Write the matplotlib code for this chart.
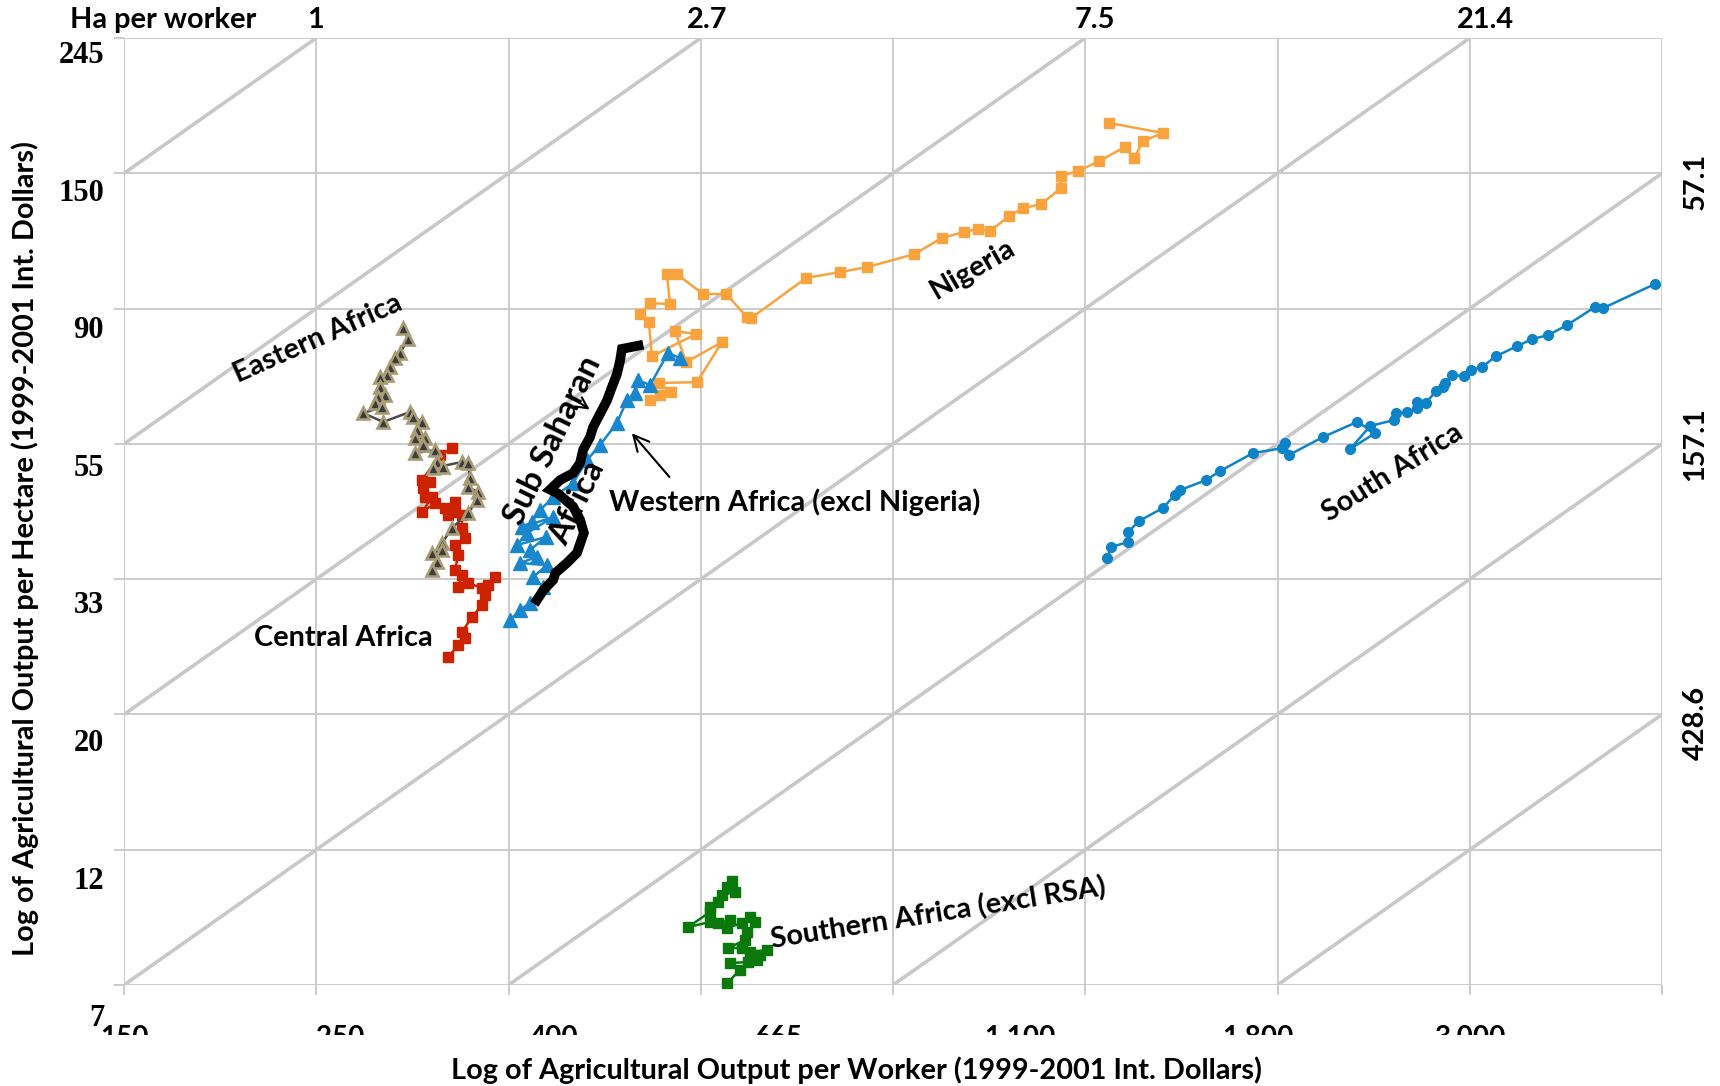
import matplotlib.pyplot as plt
from matplotlib.transforms import Bbox, blended_transform_factory

plt.rcParams['font.family'] = ['Lato', 'DejaVu Sans']
plt.rcParams['font.weight'] = 'bold'

# natural logs: x = output per worker, y = output per hectare
nigeria_x = [6.368, 6.394, 6.423, 6.391, 6.490, 6.555, 6.462, 6.433, 6.488, 6.373,
             6.365, 6.342, 6.368, 6.420, 6.412, 6.438, 6.506, 6.566, 6.620, 6.631,
             6.774, 6.862, 6.932, 7.055, 7.127, 7.185, 7.221, 7.252, 7.302, 7.338,
             7.385, 7.437, 7.437, 7.481, 7.536, 7.603, 7.627, 7.650, 7.702, 7.562]
nigeria_y = [4.162, 4.180, 4.191, 4.225, 4.228, 4.376, 4.302, 4.417, 4.406, 4.324,
             4.450, 4.480, 4.520, 4.517, 4.627, 4.627, 4.554, 4.554, 4.469, 4.465,
             4.613, 4.635, 4.653, 4.701, 4.761, 4.783, 4.794, 4.786, 4.842, 4.871,
             4.886, 4.945, 4.990, 5.008, 5.045, 5.097, 5.056, 5.119, 5.149, 5.186]

western_x = [6.004, 6.030, 6.056, 6.090, 6.064, 6.100, 6.030, 6.074, 6.056, 6.098,
             6.022, 6.048, 6.116, 6.035, 6.061, 6.082, 6.116, 6.168, 6.204, 6.238,
             6.282, 6.308, 6.329, 6.337, 6.368, 6.415, 6.446]
western_y = [3.349, 3.386, 3.412, 3.471, 3.508, 3.552, 3.560, 3.582, 3.608, 3.656,
             3.626, 3.670, 3.729, 3.693, 3.711, 3.755, 3.803, 3.855, 3.940, 3.996,
             4.077, 4.162, 4.188, 4.236, 4.217, 4.336, 4.317]

ssa_x = [6.074, 6.091, 6.116, 6.122, 6.152, 6.178, 6.196, 6.186, 6.168, 6.129,
         6.108, 6.134, 6.168, 6.186, 6.194, 6.212, 6.220, 6.238, 6.256, 6.269,
         6.282, 6.290, 6.295, 6.338]
ssa_y = [3.423, 3.460, 3.497, 3.523, 3.560, 3.597, 3.671, 3.720, 3.768, 3.816,
         3.831, 3.866, 3.892, 3.929, 3.978, 4.025, 4.062, 4.111, 4.160, 4.210,
         4.258, 4.307, 4.351, 4.363]

eastern_x = [5.726, 5.739, 5.718, 5.705, 5.692, 5.684, 5.666, 5.666, 5.679, 5.661,
             5.653, 5.671, 5.622, 5.674, 5.744, 5.752, 5.775, 5.762, 5.783, 5.757,
             5.778, 5.757, 5.809, 5.814, 5.830, 5.804, 5.879, 5.895, 5.900, 5.895,
             5.921, 5.918, 5.895, 5.853, 5.827, 5.827, 5.801, 5.814, 5.801]
eastern_y = [4.428, 4.387, 4.336, 4.317, 4.284, 4.254, 4.247, 4.210, 4.180, 4.173,
             4.151, 4.136, 4.114, 4.081, 4.118, 4.099, 4.081, 4.051, 4.021, 4.021,
             3.996, 3.966, 3.977, 3.933, 3.914, 3.911, 3.933, 3.929, 3.874, 3.840,
             3.822, 3.792, 3.744, 3.689, 3.633, 3.608, 3.596, 3.563, 3.534]

central_x = [5.843, 5.869, 5.887, 5.879, 5.905, 5.931, 5.939, 5.947, 5.965, 5.931,
             5.895, 5.869, 5.879, 5.861, 5.869, 5.861, 5.887, 5.879, 5.879, 5.843,
             5.861, 5.861, 5.835, 5.809, 5.775, 5.801, 5.783, 5.778, 5.796, 5.775,
             5.822, 5.853]
central_y = [3.212, 3.256, 3.282, 3.305, 3.360, 3.404, 3.441, 3.478, 3.508, 3.467,
             3.486, 3.471, 3.515, 3.534, 3.589, 3.626, 3.652, 3.689, 3.737, 3.737,
             3.748, 3.785, 3.763, 3.781, 3.748, 3.803, 3.803, 3.837, 3.859, 3.866,
             3.959, 3.984]

southern_x = [6.568, 6.602, 6.576, 6.623, 6.646, 6.654, 6.672, 6.628, 6.607, 6.571,
              6.615, 6.620, 6.641, 6.628, 6.607, 6.568, 6.576, 6.545, 6.524, 6.467,
              6.524, 6.524, 6.545, 6.555, 6.589, 6.568, 6.581]
southern_y = [2.007, 2.055, 2.081, 2.085, 2.092, 2.111, 2.129, 2.122, 2.137, 2.137,
              2.166, 2.196, 2.233, 2.251, 2.229, 2.211, 2.240, 2.229, 2.233, 2.214,
              2.270, 2.288, 2.307, 2.333, 2.344, 2.362, 2.384]

rsa_x = [7.557, 7.567, 7.611, 7.611, 7.640, 7.702, 7.733, 7.746, 7.814, 7.850,
         7.936, 8.012, 8.020, 8.030, 8.118, 8.207, 8.254, 8.189, 8.241, 8.303,
         8.308, 8.337, 8.363, 8.363, 8.386, 8.412, 8.430, 8.436, 8.454, 8.485,
         8.503, 8.532, 8.568, 8.623, 8.662, 8.704, 8.753, 8.826, 8.847, 8.982]
rsa_y = [3.578, 3.619, 3.637, 3.674, 3.715, 3.763, 3.811, 3.829, 3.866, 3.899,
         3.966, 3.984, 4.003, 3.959, 4.025, 4.081, 4.040, 3.981, 4.066, 4.088,
         4.114, 4.118, 4.132, 4.154, 4.151, 4.195, 4.210, 4.225, 4.254, 4.251,
         4.273, 4.284, 4.324, 4.361, 4.387, 4.402, 4.439, 4.506, 4.502, 4.591]

grid_x = [5.0, 5.5, 6.0, 6.5, 7.0, 7.5, 8.0, 8.5, 9.0]
grid_y = [2.0, 2.5, 3.0, 3.5, 4.0, 4.5, 5.0, 5.5]

worker_labels = ['150', '250', '400', '665', '1,100', '1,800', '3,000']
worker_label_pos = [5.0, 5.562, 6.118, 6.703, 7.330, 7.949, 8.501]
hectare_labels = ['245', '150', '90', '55', '33', '20', '12', '7']
hectare_label_pos = [5.435, 4.927, 4.418, 3.910, 3.401, 2.893, 2.384, 1.876]

# iso land-per-worker lines: ln(worker) - ln(hectare) = gap
land_gaps = [0, 1, 2, 3, 4, 5, 6]
ha_top_labels = ['1', '2.7', '7.5', '21.4']
ha_top_pos = [5.499, 6.516, 7.525, 8.542]
ha_right_labels = ['57.1', '157.1', '428.6']
ha_right_pos = [4.97, 4.0, 2.97]

grey = '#C8C8C8'
fs = 20.8

fig = plt.figure(figsize=(17.2, 10.86), dpi=100)
ax = fig.add_axes([0.0721, 0.0930, 0.8942, 0.8720])
ax.set_xlim(5.0, 9.0)
ax.set_ylim(2.0, 5.5)
for s in ax.spines.values():
    s.set_visible(False)

for gx in grid_x:
    ax.axvline(gx, color=grey, lw=1.3, zorder=0)
for gy in grid_y:
    ax.axhline(gy, color=grey, lw=1.3, zorder=0)
for gap in land_gaps:
    x0 = max(5.0, 2.0 + gap)
    x1 = min(9.0, 5.5 + gap)
    ax.plot([x0, x1], [x0 - gap, x1 - gap], color=grey, lw=2.6, zorder=0,
            solid_capstyle='butt')

ax.set_xticks(grid_x)
ax.set_yticks(grid_y)
ax.tick_params(length=7, width=1.3, color=grey, labelbottom=False, labelleft=False)

# series
ax.plot(nigeria_x, nigeria_y, color='#F8A33E', marker='s', ms=7.5, lw=1.8, zorder=3)
ax.plot(central_x, central_y, color='#CC2200', marker='s', ms=7.5, lw=1.8, zorder=3)
ax.plot(eastern_x, eastern_y, color='#4A4A4A', marker='^', ms=9, lw=1.8,
        mfc='#3C3C3C', mec='#A89C76', mew=1.9, zorder=4)
ax.plot(western_x, western_y, color='#1A86CB', marker='^', ms=9.5, lw=1.8, zorder=4)
ax.plot(ssa_x, ssa_y, color='black', lw=7, solid_joinstyle='miter', zorder=5)
ax.plot(southern_x, southern_y, color='#0B780B', marker='s', ms=7.5, lw=1.8,
        zorder=3, clip_on=False)
ax.plot(rsa_x, rsa_y, color='#0E83C8', marker='o', ms=7, lw=1.8, zorder=3,
        clip_on=False)

# series names
lab = dict(fontsize=fs, fontweight='bold', color='black', zorder=6)
ax.text(7.208, 4.646, 'Nigeria', rotation=30, ha='center', va='center', **lab)
ax.text(5.505, 4.387, 'Eastern Africa', rotation=24, ha='center', va='center', **lab)
ax.text(5.570, 3.282, 'Central Africa', ha='center', va='center', **lab)
ax.text(6.262, 3.785, 'Western Africa (excl Nigeria)', ha='left', va='center', **lab)
ax.text(8.300, 3.892, 'South Africa', rotation=32, ha='center', va='center', **lab)
ax.text(7.117, 2.265, 'Southern Africa (excl RSA)', rotation=9, ha='center',
        va='center', **lab)
ax.text(6.116, 4.014, 'Sub Saharan', rotation=64, ha='center', va='center',
        fontsize=24, fontweight='bold', zorder=6)
ax.text(6.178, 3.781, 'Africa', rotation=64, ha='center', va='center',
        fontsize=24, fontweight='bold', zorder=6)
ax.annotate('', xy=(6.316, 4.047), xytext=(6.423, 3.870),
            arrowprops=dict(arrowstyle='->', color='black', lw=1.5,
                            mutation_scale=28), zorder=6)
ax.annotate('', xy=(6.217, 4.121), xytext=(6.168, 4.169),
            arrowprops=dict(arrowstyle='->', color='black', lw=1.5,
                            mutation_scale=20), zorder=6)

# output per worker labels, lower half hidden under the title band
xlab_tr = blended_transform_factory(ax.transData, ax.transAxes)
for pos, txt in zip(worker_label_pos, worker_labels):
    t = ax.text(pos, -0.0422, txt, transform=xlab_tr, ha='center', va='top',
                fontsize=20, fontweight='bold', clip_on=True)
    t.set_clip_box(Bbox.from_extents(0, 51, 1720, 1086))

# output per hectare labels
ylab_tr = blended_transform_factory(ax.transAxes, ax.transData)
for pos, txt in zip(hectare_label_pos, hectare_labels):
    ax.text(-0.013, pos, txt, transform=ylab_tr, ha='right', va='center',
            fontsize=22, fontweight='bold', family='Liberation Serif', clip_on=False)

# hectares per worker along the top and right edges
for pos, txt in zip(ha_top_pos, ha_top_labels):
    ax.text(pos, 1.019, txt, transform=xlab_tr, ha='center', va='center',
            fontsize=fs, fontweight='bold', clip_on=False)
ax.text(5.101, 1.019, 'Ha per worker', transform=xlab_tr, ha='center', va='center',
        fontsize=fs, fontweight='bold', clip_on=False)
for pos, txt in zip(ha_right_pos, ha_right_labels):
    ax.text(1.0218, pos, txt, transform=ylab_tr, rotation=90, ha='center',
            va='center', fontsize=fs, fontweight='bold', clip_on=False)

ax.text(0.476, -0.0898, 'Log of Agricultural Output per Worker (1999-2001 Int. Dollars)',
        transform=ax.transAxes, ha='center', va='center', fontsize=fs,
        fontweight='bold')
ax.text(-0.064, 0.461, 'Log of Agricultural Output per Hectare (1999-2001 Int. Dollars)',
        transform=ax.transAxes, rotation=90, ha='center', va='center',
        fontsize=fs, fontweight='bold')

fig.savefig('out.png', dpi=100)
